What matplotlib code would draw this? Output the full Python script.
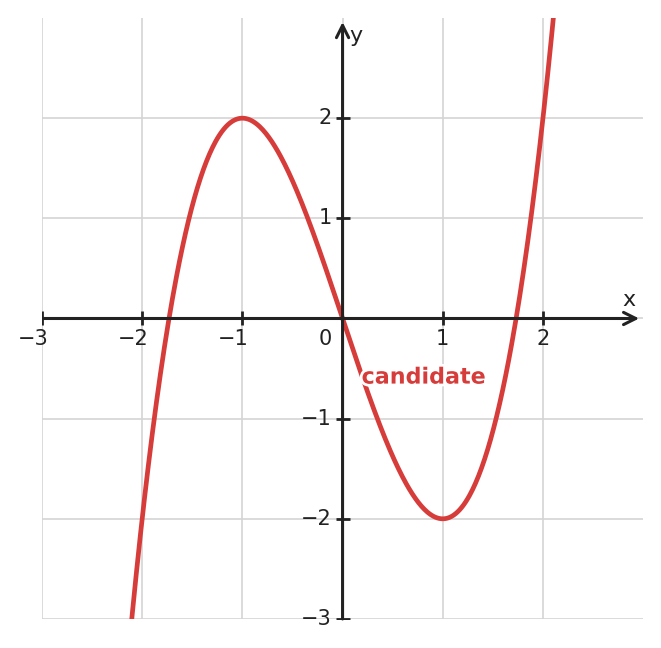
import numpy as np
import matplotlib.pyplot as plt
import matplotlib.patheffects as pe

## Données
coeffs = [1, 0, -3, 0]  # y = x^3 - 3x
x_lim = [-3, 3]
y_lim = [-3, 3]
x_ticks = [-3, -2, -1, 1, 2]
y_ticks = [-3, -2, -1, 1, 2]
label_text = "candidate"
label_pos = (0.81, -0.59)

red = "#d63c3a"
dark = "#222222"

## Figure
fig = plt.figure(figsize=(6.61, 6.48), dpi=100)
ax = fig.add_axes([0.0635, 0.0448, 0.9095, 0.9274])
ax.set_xlim(x_lim)
ax.set_ylim(y_lim)
for s in ax.spines.values():
    s.set_visible(False)
ax.set_xticks([])
ax.set_yticks([])

# grille (sans les bords haut et droit)
for v in range(x_lim[0], x_lim[1]):
    ax.axvline(v, color="#d4d4d4", lw=1.2, zorder=0)
for v in range(y_lim[0], y_lim[1]):
    ax.axhline(v, color="#d4d4d4", lw=1.2, zorder=0)

# axes avec flèches
ax.annotate("", xy=(2.96, 0), xytext=(-2.98, 0),
            arrowprops=dict(arrowstyle="->", color=dark, lw=2.2,
                            mutation_scale=22, shrinkA=0, shrinkB=0), zorder=3)
ax.annotate("", xy=(0, 2.96), xytext=(0, -3),
            arrowprops=dict(arrowstyle="->", color=dark, lw=2.2,
                            mutation_scale=22, shrinkA=0, shrinkB=0), zorder=3)

# graduations
ax.plot(x_ticks, [0] * len(x_ticks), linestyle="none", marker="|",
        markersize=10, mew=2, color=dark, zorder=3)
ax.plot([0] * len(y_ticks), y_ticks, linestyle="none", marker="_",
        markersize=10, mew=2, color=dark, zorder=3)

for t in x_ticks:
    if t < 0:
        ax.text(t - 0.09, -0.1, "\u2212%d" % -t, ha="center", va="top",
                fontsize=15, color=dark)
    else:
        ax.text(t, -0.1, str(t), ha="center", va="top", fontsize=15, color=dark)
for t in y_ticks:
    ax.text(-0.11, t, "\u2212%d" % -t if t < 0 else str(t), ha="right",
            va="center", fontsize=15, color=dark)
ax.text(-0.17, -0.1, "0", ha="center", va="top", fontsize=15, color=dark)
ax.text(2.86, 0.08, "x", ha="center", va="bottom", fontsize=16, color=dark)
ax.text(0.07, 2.82, "y", ha="left", va="center", fontsize=16, color=dark)

# courbe
xs = np.linspace(-3, 3, 600)
ax.plot(xs, np.polyval(coeffs, xs), color=red, lw=3.4, zorder=2)

ax.text(label_pos[0], label_pos[1], label_text, ha="center", va="center",
        fontsize=16, fontweight="bold", color=red, zorder=4,
        path_effects=[pe.withStroke(linewidth=4, foreground="white")])

plt.savefig("out.png", dpi=100)
